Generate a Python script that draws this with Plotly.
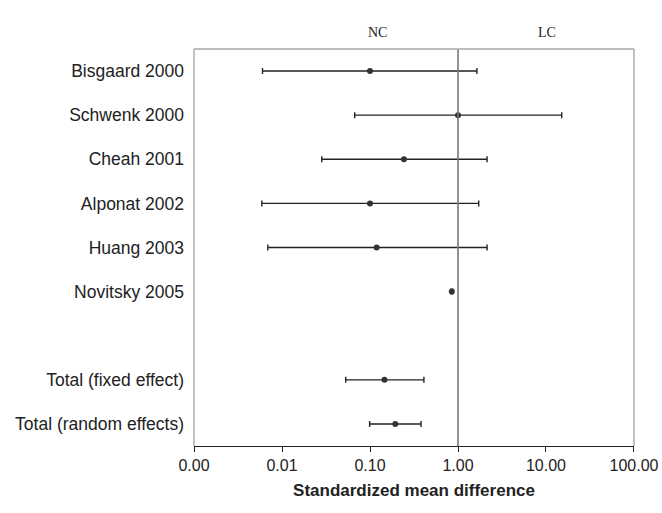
import plotly.graph_objects as go
import math

studies = ["Bisgaard 2000", "Schwenk 2000", "Cheah 2001", "Alponat 2002", "Huang 2003",
           "Novitsky 2005", "", "Total (fixed effect)", "Total (random effects)"]
estimate = [0.100, 1.00, 0.243, 0.100, 0.119, 0.85, None, 0.146, 0.194]
lower = [0.0060, 0.067, 0.0283, 0.0059, 0.0069, 0.83, None, 0.053, 0.099]
upper = [1.64, 15.1, 2.14, 1.72, 2.14, 0.87, None, 0.41, 0.38]
tick_vals = [0.001, 0.01, 0.1, 1, 10, 100]
tick_text = ["0.00", "0.01", "0.10", "1.00", "10.00", "100.00"]
side_labels = ["NC", "LC"]
side_label_x = [0.123, 10.3]

rows = list(range(len(studies)))
xs, ys, ep, em = [], [], [], []
for i, (e, lo, hi) in enumerate(zip(estimate, lower, upper)):
    if e is None:
        continue
    xs.append(e); ys.append(i); ep.append(hi - e); em.append(e - lo)

narrow = "Liberation Sans Narrow, Arial Narrow, Liberation Sans, Arial, sans-serif"
serif = "Liberation Serif, Times New Roman, serif"

fig = go.Figure()
fig.add_trace(go.Scatter(
    x=xs, y=ys, mode="markers",
    marker=dict(color="#333333", size=6, symbol="circle"),
    error_x=dict(type="data", symmetric=False, array=ep, arrayminus=em,
                 color="#222222", thickness=1.4, width=3),
    showlegend=False, hoverinfo="skip",
))

fig.add_shape(type="line", xref="x", yref="paper", x0=1, x1=1, y0=0, y1=1,
              line=dict(color="#777777", width=1.6))
for (x0, x1, y0, y1) in [(0, 1, 1, 1), (0, 0, 0, 1), (1, 1, 0, 1)]:
    fig.add_shape(type="line", xref="paper", yref="paper", x0=x0, x1=x1, y0=y0, y1=y1,
                  line=dict(color="#a8a8a8", width=1.4))

for txt, xv in zip(side_labels, side_label_x):
    fig.add_annotation(text=txt, x=math.log10(xv), xref="x", y=1, yref="paper", yshift=26,
                       showarrow=False, font=dict(family=serif, size=14, color="#222"))

fig.update_xaxes(type="log", range=[-3.0002, 2.0002], tickvals=tick_vals, ticktext=tick_text,
                 automargin=False,
                 showgrid=False, zeroline=False, showline=True, linecolor="#222222", linewidth=1.4,
                 ticks="outside", ticklen=5, tickcolor="#222222", tickwidth=1.2,
                 tickfont=dict(family=narrow, size=16, color="#222"),
                 title=dict(text="<b>Standardized mean difference</b>", standoff=10,
                            font=dict(family=narrow, size=17, color="#222")))
fig.update_yaxes(range=[len(studies) - 0.5, -0.5], tickvals=rows, ticktext=studies,
                 automargin=False,
                 showgrid=False, zeroline=False, showline=False, ticks="", ticklabelstandoff=9,
                 tickfont=dict(family=narrow, size=17.5, color="#222"))

fig.update_layout(width=662, height=513, margin=dict(l=194, r=28, t=49, b=67),
                  plot_bgcolor="white", paper_bgcolor="white")
fig.write_html("out.html", config={"displayModeBar": False},
               post_script="document.body.style.margin='0';document.body.style.overflow='hidden';")
